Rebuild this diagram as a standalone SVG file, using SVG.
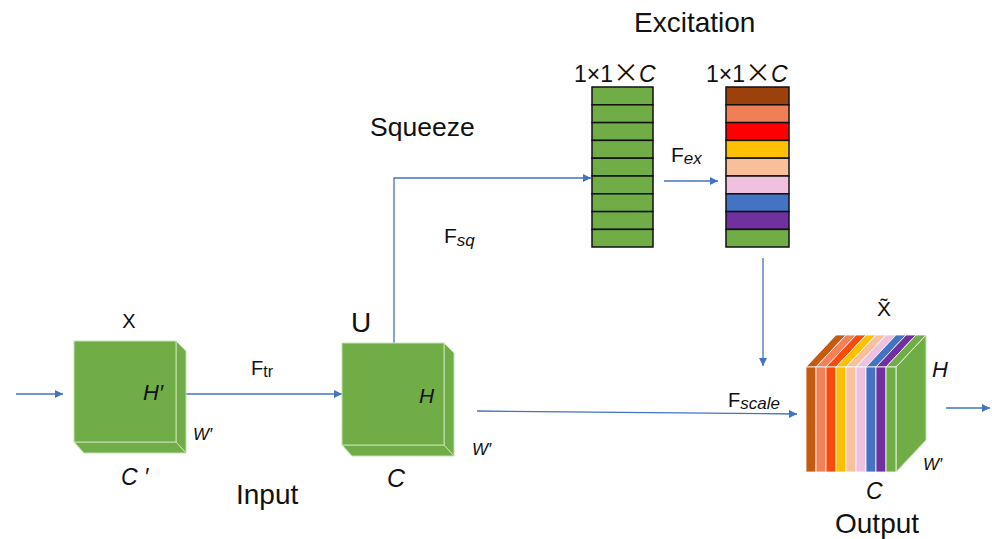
<svg xmlns="http://www.w3.org/2000/svg" width="992" height="539" viewBox="0 0 992 539">
  <defs>
    <marker id="arrow" viewBox="0 0 10 10" refX="10" refY="5" markerWidth="8" markerHeight="8" markerUnits="userSpaceOnUse" orient="auto">
      <path d="M0,0 L10,5 L0,10 z" fill="#4472c4"/>
    </marker>
    <style>
      .lbl { font-family: "Liberation Sans", Arial, sans-serif; fill: #111; }
      .it { font-style: italic; }
      .cube { fill: #70ad47; stroke: #c5e0b4; stroke-width: 1; }
      .cell { stroke: #111; stroke-width: 1.5; }
      .stripe { stroke: #ffffff; stroke-width: 0.8; }
      .conn { stroke: #4472c4; stroke-width: 1.3; fill: none; }
    </style>
  </defs>
  <rect width="992" height="539" fill="#ffffff"/>

  <!-- connectors -->
  <g id="connectors">
    <line class="conn" x1="16" y1="394" x2="63" y2="394" marker-end="url(#arrow)"/>
    <line class="conn" x1="186" y1="394" x2="342" y2="394" marker-end="url(#arrow)"/>
    <polyline class="conn" points="394,343 394,178 591,178" marker-end="url(#arrow)"/>
    <line class="conn" x1="664" y1="181" x2="718" y2="181" marker-end="url(#arrow)"/>
    <line class="conn" x1="763" y1="258" x2="763" y2="366" marker-end="url(#arrow)"/>
    <line class="conn" x1="477" y1="411" x2="797" y2="414" marker-end="url(#arrow)"/>
    <line class="conn" x1="946" y1="408" x2="990" y2="408" marker-end="url(#arrow)"/>
  </g>

  <!-- input tensor X -->
  <g id="node-x">
    <polygon class="cube" points="176,341 186,351 186,453 176,442"/>
    <polygon class="cube" points="74,442 176,442 186,453 84,453"/>
    <rect class="cube" x="74" y="341" width="102" height="101"/>
    <text class="lbl" x="129" y="328" font-size="20" text-anchor="middle">X</text>
    <text class="lbl it" x="143" y="400" font-size="22">H′</text>
    <text class="lbl it" x="193" y="440" font-size="17">W′</text>
    <text class="lbl it" x="121" y="485" font-size="23">C ′</text>
    <text class="lbl" x="236" y="504" font-size="28">Input</text>
  </g>

  <!-- transform label -->
  <g id="label-ftr">
    <text class="lbl" x="251" y="375" font-size="20">F<tspan font-size="16" dy="2">tr</tspan></text>
  </g>

  <!-- feature map U -->
  <g id="node-u">
    <polygon class="cube" points="444,343 454,353 454,456 444,445"/>
    <polygon class="cube" points="342,445 444,445 454,456 352,456"/>
    <rect class="cube" x="342" y="343" width="102" height="102"/>
    <text class="lbl" x="351" y="332" font-size="28">U</text>
    <text class="lbl it" x="419" y="403" font-size="21">H</text>
    <text class="lbl it" x="472" y="455" font-size="17">W′</text>
    <text class="lbl it" x="387" y="487" font-size="25">C</text>
  </g>

  <!-- squeeze step -->
  <g id="label-squeeze">
    <text class="lbl" x="370" y="136" font-size="26.5">Squeeze</text>
    <text class="lbl" x="444" y="243" font-size="21">F<tspan class="it" font-size="17" dy="3">sq</tspan></text>
  </g>

  <!-- squeezed vector 1x1xC -->
  <g id="node-squeezed">
    <g fill="#70ad47">
      <rect class="cell" x="592" y="87.0" width="61" height="17.8"/>
      <rect class="cell" x="592" y="104.8" width="61" height="17.8"/>
      <rect class="cell" x="592" y="122.6" width="61" height="17.8"/>
      <rect class="cell" x="592" y="140.4" width="61" height="17.8"/>
      <rect class="cell" x="592" y="158.2" width="61" height="17.8"/>
      <rect class="cell" x="592" y="176.0" width="61" height="17.8"/>
      <rect class="cell" x="592" y="193.8" width="61" height="17.8"/>
      <rect class="cell" x="592" y="211.6" width="61" height="17.8"/>
      <rect class="cell" x="592" y="229.4" width="61" height="17.6"/>
    </g>
    <text class="lbl" x="574" y="82" font-size="23">1×1<tspan font-family="'Noto Sans CJK SC', sans-serif" font-size="26">×</tspan><tspan class="it">C</tspan></text>
  </g>

  <!-- excitation step -->
  <g id="label-excitation">
    <text class="lbl" x="634" y="32" font-size="28">Excitation</text>
    <text class="lbl" x="671" y="162" font-size="21">F<tspan class="it" font-size="17" dy="2">ex</tspan></text>
  </g>

  <!-- channel weights 1x1xC -->
  <g id="node-weights">
    <rect class="cell" x="726" y="87.0" width="63" height="17.8" fill="#9c400c"/>
    <rect class="cell" x="726" y="104.8" width="63" height="17.8" fill="#f07f58"/>
    <rect class="cell" x="726" y="122.6" width="63" height="17.8" fill="#ff0000"/>
    <rect class="cell" x="726" y="140.4" width="63" height="17.8" fill="#ffc000"/>
    <rect class="cell" x="726" y="158.2" width="63" height="17.8" fill="#f8bf9a"/>
    <rect class="cell" x="726" y="176.0" width="63" height="17.8" fill="#f0c1df"/>
    <rect class="cell" x="726" y="193.8" width="63" height="17.8" fill="#4472c4"/>
    <rect class="cell" x="726" y="211.6" width="63" height="17.8" fill="#7030a0"/>
    <rect class="cell" x="726" y="229.4" width="63" height="17.6" fill="#70ad47"/>
    <text class="lbl" x="706" y="82" font-size="23">1×1<tspan font-family="'Noto Sans CJK SC', sans-serif" font-size="26">×</tspan><tspan class="it">C</tspan></text>
  </g>

  <!-- scale label -->
  <g id="label-fscale">
    <text class="lbl" x="728" y="407" font-size="20">F<tspan class="it" font-size="17" dy="2">scale</tspan></text>
  </g>

  <!-- recalibrated output -->
  <g id="node-output">
    <polygon points="896,367 926,335 926,440 896,472" fill="#70ad47" stroke="#c5e0b4" stroke-width="1"/>
    <g class="stripe">
      <polygon points="806,367 816,367 846,335 836,335" fill="#c55a11"/>
      <polygon points="816,367 826,367 856,335 846,335" fill="#f4805a"/>
      <polygon points="826,367 836,367 866,335 856,335" fill="#f94b0c"/>
      <polygon points="836,367 846,367 876,335 866,335" fill="#ffc000"/>
      <polygon points="846,367 856,367 886,335 876,335" fill="#f8c09c"/>
      <polygon points="856,367 866,367 896,335 886,335" fill="#f0c0e0"/>
      <polygon points="866,367 876,367 906,335 896,335" fill="#4472c4"/>
      <polygon points="876,367 886,367 916,335 906,335" fill="#7030a0"/>
      <polygon points="886,367 896,367 926,335 916,335" fill="#70ad47"/>
      <rect x="806" y="367" width="10" height="105" fill="#c55a11"/>
      <rect x="816" y="367" width="10" height="105" fill="#f4805a"/>
      <rect x="826" y="367" width="10" height="105" fill="#f94b0c"/>
      <rect x="836" y="367" width="10" height="105" fill="#ffc000"/>
      <rect x="846" y="367" width="10" height="105" fill="#f8c09c"/>
      <rect x="856" y="367" width="10" height="105" fill="#f0c0e0"/>
      <rect x="866" y="367" width="10" height="105" fill="#4472c4"/>
      <rect x="876" y="367" width="10" height="105" fill="#7030a0"/>
      <rect x="886" y="367" width="10" height="105" fill="#70ad47"/>
    </g>
    <text class="lbl" x="884" y="316" font-size="21" text-anchor="middle">X̃</text>
    <text class="lbl it" x="932" y="377" font-size="22">H</text>
    <text class="lbl it" x="923" y="470" font-size="17">W′</text>
    <text class="lbl it" x="866" y="499" font-size="23">C</text>
    <text class="lbl" x="835" y="533" font-size="28">Output</text>
  </g>
</svg>
